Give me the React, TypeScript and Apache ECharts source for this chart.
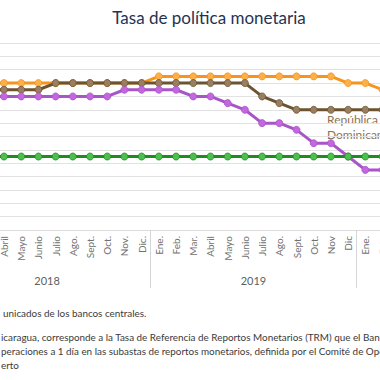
import React, { useEffect, useRef } from "react";
import * as echarts from "echarts";

const months = [
  "Ene.", "Feb.", "Mar.", "Abril", "Mayo", "Junio", "Julio", "Ago.", "Sept.", "Oct.", "Nov.", "Dic.",
  "Ene.", "Feb.", "Mar.", "Abril", "Mayo", "Junio", "Julio", "Ago.", "Sept.", "Oct.", "Nov", "Dic",
  "Ene.", "Feb.", "Mar.", "Abril", "Mayo", "Junio", "Julio", "Ago.", "Sept.", "Oct.", "Nov.", "Dic.",
];
const years = ["2018", "2019", "2020"];

const honduras = [
  5.5, 5.5, 5.5, 5.5, 5.5, 5.5, 5.5, 5.5, 5.5, 5.5, 5.5, 5.5,
  5.75, 5.75, 5.75, 5.75, 5.75, 5.75, 5.75, 5.75, 5.75, 5.75, 5.75, 5.5,
  5.5, 5.25, null, null, null, null, null, null, null, null, null, null,
];
const repDominicana = [
  5.25, 5.25, 5.25, 5.25, 5.25, 5.25, 5.5, 5.5, 5.5, 5.5, 5.5, 5.5,
  5.5, 5.5, 5.5, 5.5, 5.5, 5.5, 5.0, 4.75, 4.5, 4.5, 4.5, 4.5,
  4.5, 4.5, null, null, null, null, null, null, null, null, null, null,
];
const costaRica = [
  5.0, 5.0, 5.0, 5.0, 5.0, 5.0, 5.0, 5.0, 5.0, 5.0, 5.25, 5.25,
  5.25, 5.25, 5.0, 5.0, 4.75, 4.5, 4.0, 4.0, 3.75, 3.25, 3.25, 2.75,
  2.25, 2.25, null, null, null, null, null, null, null, null, null, null,
];
const guatemala = [
  2.75, 2.75, 2.75, 2.75, 2.75, 2.75, 2.75, 2.75, 2.75, 2.75, 2.75, 2.75,
  2.75, 2.75, 2.75, 2.75, 2.75, 2.75, 2.75, 2.75, 2.75, 2.75, 2.75, 2.75,
  2.75, 2.75, null, null, null, null, null, null, null, null, null, null,
];

const notes = [
  "unicados de los bancos centrales.",
  "icaragua, corresponde a la Tasa de Referencia de Reportos Monetarios (TRM) que el Banco",
  "peraciones a 1 día en las subastas de reportos monetarios, definida por el Comité de Operaciones",
  "erto",
];

const OFF = 100;
const FONT = "Lato, 'Noto Sans', sans-serif";

function mkSeries(name: string, data: (number | null)[], line: string, fill: string, z: number) {
  return {
    name,
    type: "line",
    data,
    z,
    symbol: "circle",
    symbolSize: 7,
    lineStyle: { color: line, width: 3 },
    itemStyle: { color: fill, borderColor: line, borderWidth: 0.8 },
    emphasis: { disabled: true },
  };
}

export default function App() {
  const ref = useRef<HTMLDivElement>(null);
  useEffect(() => {
    if (!ref.current) return;
    const chart = echarts.init(ref.current, undefined, { renderer: "svg" });
    chart.setOption({
      animation: false,
      backgroundColor: "#ffffff",
      grid: { left: 43.8, width: 619.4, top: 43, bottom: 150, containLabel: false },
      xAxis: [
        {
          type: "category",
          data: months,
          boundaryGap: true,
          axisLine: { show: true, lineStyle: { color: "#dcdcdc", width: 1 } },
          axisTick: { show: false },
          axisLabel: {
            interval: 0,
            rotate: 90,
            margin: 6,
            fontSize: 10,
            color: "#707070",
            fontFamily: FONT,
          },
          splitLine: { show: false },
        },
        {
          type: "category",
          data: years,
          position: "bottom",
          boundaryGap: true,
          axisLine: { show: false },
          axisTick: { show: true, interval: 0, length: 58, lineStyle: { color: "#d6d6d6", width: 1 } },
          axisLabel: { interval: 0, margin: 45, fontSize: 11, color: "#606060", fontFamily: FONT },
          splitLine: { show: false },
        },
      ],
      yAxis: {
        type: "value",
        min: 0,
        max: 7,
        interval: 0.5,
        axisLine: { show: false },
        axisTick: { show: false },
        axisLabel: { show: false },
        splitLine: { show: true, lineStyle: { color: "#e2e2e2", width: 1 } },
      },
      series: [
        mkSeries("Honduras", honduras, "#f7941d", "#fbb04a", 2),
        mkSeries("República Dominicana", repDominicana, "#6d5430", "#9a7e62", 3),
        mkSeries("Costa Rica", costaRica, "#a855c8", "#c466e0", 4),
        mkSeries("Guatemala", guatemala, "#1e8c1e", "#4cc04c", 5),
      ],
      graphic: [
        {
          type: "text",
          x: 209 + OFF,
          y: 17,
          style: {
            text: "Tasa de política monetaria",
            fontSize: 17,
            fontFamily: FONT,
            fill: "#1f3354",
            textAlign: "center",
            textVerticalAlign: "middle",
          },
        },
        {
          type: "text",
          x: 327 + OFF,
          y: 112,
          style: {
            text: "República\nDominicana",
            fontSize: 12,
            lineHeight: 15,
            fontFamily: FONT,
            fill: "#8b7355",
            textAlign: "left",
            textVerticalAlign: "top",
          },
        },
        ...notes.map((t, i) => ({
          type: "text",
          x: (i === 0 ? 3 : 1) + OFF,
          y: [313, 337, 351, 365][i],
          style: {
            text: t,
            fontSize: 9.9,
            fontFamily: FONT,
            fill: "#3a3a3a",
            textAlign: "left",
            textVerticalAlign: "middle",
          },
        })),
      ],
    });
    return () => chart.dispose();
  }, []);
  return (
    <div style={{ position: "fixed", left: 0, top: 0, width: 380, height: 380, overflow: "hidden", background: "#fff" }}>
      <div ref={ref} style={{ position: "absolute", left: -OFF, top: 0, width: 720, height: 380 }} />
    </div>
  );
}
